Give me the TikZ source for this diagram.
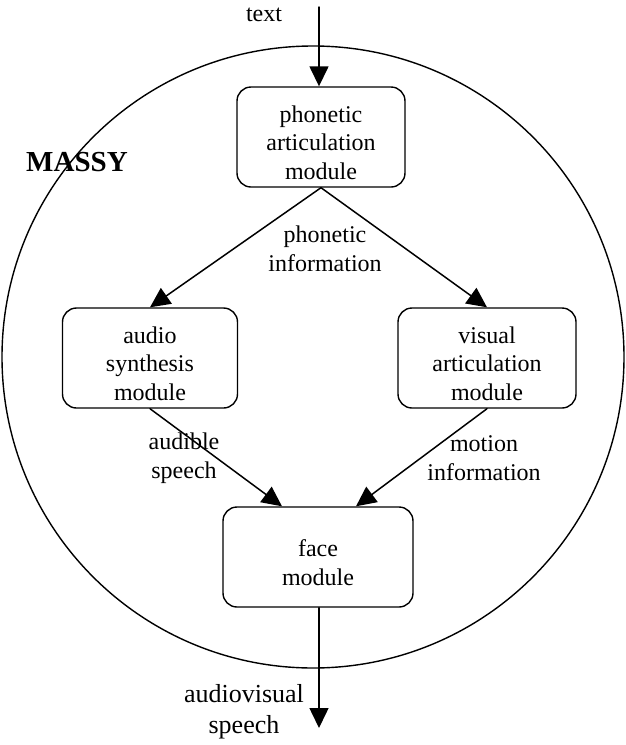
\documentclass[tikz,border=0pt]{standalone}
\usepackage{fontspec}
\setmainfont{Liberation Serif}
\usetikzlibrary{arrows.meta}
\newcommand{\topgap}{\rule{0pt}{28pt}}

\begin{document}
\begin{tikzpicture}[x=1pt,y=-1pt,line cap=round,line join=round,
 >={Triangle[length=20pt,width=19pt]},
 module/.style={draw,line width=1.4pt,rounded corners=14pt,minimum height=100pt,
   align=center,inner sep=0pt,font=\fontsize{24}{28.5}\selectfont},
 lbl/.style={align=center,inner sep=0pt,font=\fontsize{24}{28.5}\selectfont},
 flow/.style={->,line width=1.5pt}]
\useasboundingbox (0,0) rectangle (626,745);
% system boundary
\draw[line width=1.4pt] (313,357) circle[radius=311pt];
\node[font=\fontsize{29}{32}\selectfont\bfseries] (massy) at (77,162) {MASSY};
% modules
\node[module,minimum width=168pt] (phon) at (321,137) {\topgap phonetic\\articulation\\module};
\node[module,minimum width=175pt] (audio) at (150,358) {\topgap audio\\synthesis\\module};
\node[module,minimum width=178pt] (visual) at (487,358) {\topgap visual\\articulation\\module};
\node[module,minimum width=190pt] (face) at (318,557) {\topgap face\\module};
% in / out
\coordinate (in) at (319,7);
\coordinate (out) at (319,728);
\node[lbl] (txt) at (264,15) {text};
\node[lbl,font=\fontsize{26}{31}\selectfont] (av) at (244,712) {audiovisual\\speech};
% flows
\draw[flow] (in) -- (in |- phon.north);
\draw[flow] (phon.south) -- (audio.north);
\draw[flow] (phon.south) -- (visual.north);
\draw[flow] (audio.south) -- ([xshift=-36pt]face.north);
\draw[flow] (visual.south) -- ([xshift=38pt]face.north);
\draw[flow] (face.south -| out) -- (out);
% flow labels
\node[lbl] (phinfo) at (325,249) {phonetic\\information};
\node[lbl] (audible) at (184,458) {audible\\speech};
\node[lbl] (motion) at (484,458) {motion\\information};
\end{tikzpicture}
\end{document}
